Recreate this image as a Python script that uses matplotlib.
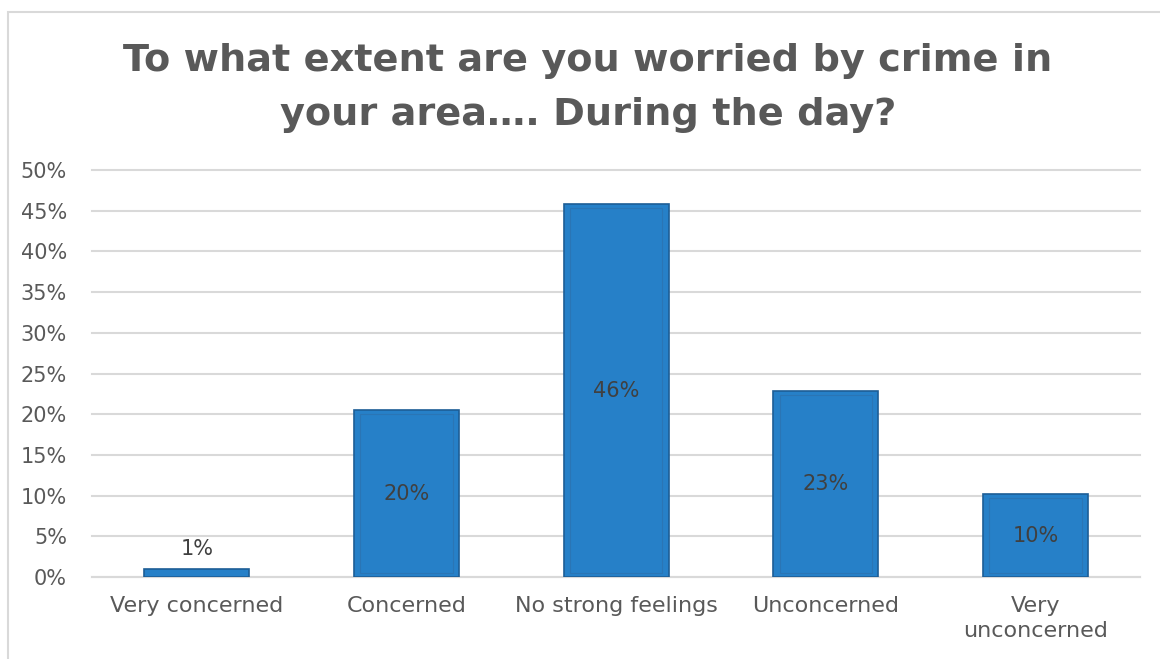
import matplotlib
matplotlib.use("Agg")
import matplotlib.pyplot as plt
from matplotlib.patches import Rectangle
from matplotlib.ticker import PercentFormatter

# données
categories = ["Very concerned", "Concerned", "No strong feelings", "Unconcerned", "Very\nunconcerned"]
valeurs = [1.0, 20.5, 45.8, 22.9, 10.2]
etiquettes = ["1%", "20%", "46%", "23%", "10%"]
titre = "To what extent are you worried by crime in\nyour area…. During the day?"

gris = "#595959"
bleu = "#2680C8"

fig = plt.figure(figsize=(11.6, 6.59), dpi=100)
ax = fig.add_axes([0.0793, 0.1244, 0.9037, 0.6176])

x = list(range(len(categories)))
ax.bar(x, valeurs, width=0.5, color=bleu, edgecolor="#1D5E96", linewidth=1.2, zorder=3)
# léger liseré intérieur
ax.bar(x, [max(v - 1.0, 0) for v in valeurs], bottom=[0.5 if v > 2 else 0 for v in valeurs],
       width=0.44, color="none", edgecolor="#2A75B5", linewidth=0.8, zorder=4)

for i, v in enumerate(valeurs):
    if v < 5:
        ax.text(i, v + 1.2, etiquettes[i], ha="center", va="bottom", fontsize=15, color="#404040", zorder=5)
    else:
        ax.text(i, v / 2, etiquettes[i], ha="center", va="center", fontsize=15, color="#404040", zorder=5)

ax.set_xlim(-0.5, 4.5)
ax.set_ylim(0, 50)
ax.set_yticks(range(0, 51, 5))
ax.yaxis.set_major_formatter(PercentFormatter(decimals=0))
ax.set_xticks(x)
ax.set_xticklabels(categories, fontsize=16, color=gris, linespacing=1.3)
ax.tick_params(axis="y", labelsize=15, labelcolor=gris, length=0, pad=18)
ax.tick_params(axis="x", length=0, pad=14)
ax.grid(axis="y", color="#D9D9D9", linewidth=1.5, zorder=0)
for ligne in ax.get_ygridlines():
    ligne.set_clip_on(False)
for s in ["top", "right", "left"]:
    ax.spines[s].set_visible(False)
ax.spines["bottom"].set_color("#D9D9D9")
ax.spines["bottom"].set_linewidth(1.5)

fig.text(0.507, 0.866, titre, ha="center", va="center", fontsize=27.5, fontweight="bold",
         color=gris, linespacing=1.65)

# cadre du graphique
fig.patches.append(Rectangle((0.0065, -0.01), 1.0, 0.992, transform=fig.transFigure,
                             fill=False, edgecolor="#D9D9D9", linewidth=1.5))

fig.savefig("out.png", dpi=100)
